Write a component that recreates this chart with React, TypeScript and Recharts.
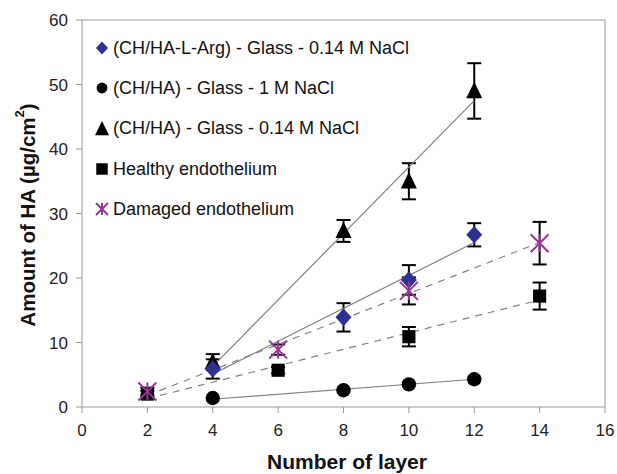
import React from "react";
import {
  ComposedChart,
  Scatter,
  XAxis,
  YAxis,
  ErrorBar,
  ReferenceLine,
  Legend,
} from "recharts";

// layer counts and measured HA amounts (µg/cm²)
const argLayers = [4, 8, 10, 12];
const argAmount = [5.9, 13.9, 19.7, 26.7];
const argErr = [1.5, 2.2, 2.3, 1.8];

const naclLayers = [4, 8, 10, 12];
const naclAmount = [1.4, 2.6, 3.5, 4.3];
const naclErr = [0.3, 0.4, 0.4, 0.5];

const lowLayers = [4, 8, 10, 12];
const lowAmount = [7.0, 27.3, 35.0, 49.0];
const lowErr = [1.2, 1.7, 2.8, 4.3];

const healthyLayers = [2, 6, 10, 14];
const healthyAmount = [2.0, 5.7, 10.9, 17.2];
const healthyErr = [0.5, 0.5, 1.5, 2.1];

const damagedLayers = [2, 6, 10, 14];
const damagedAmount = [2.4, 8.9, 18.0, 25.4];
const damagedErr = [0.6, 0.8, 2.1, 3.3];

// trend line end points
const trendGlassX = [4, 12];
const trendArg = [5.1, 25.5];
const trendNacl = [1.2, 4.3];
const trendLow = [6.3, 47.5];
const trendTissueX = [2, 14];
const trendHealthy = [1.3, 16.6];
const trendDamaged = [1.8, 25.5];

const xTicks = [0, 2, 4, 6, 8, 10, 12, 14, 16];
const yTicks = [0, 10, 20, 30, 40, 50, 60];

const legendNames = [
  "(CH/HA-L-Arg) - Glass - 0.14 M NaCl",
  "(CH/HA) - Glass - 1 M NaCl",
  "(CH/HA) - Glass - 0.14 M NaCl",
  "Healthy endothelium",
  "Damaged endothelium",
];

const pts = (xs: number[], ys: number[], errs?: number[]) =>
  xs.map((x, i) => ({ x, y: ys[i], err: errs ? errs[i] : 0 }));

const NAVY = "#2e3192";
const PURPLE = "#993399";
const AXIS = "#9c9696";
const FONT = "'Liberation Sans', Arial, sans-serif";

function marker(kind: string, cx: number, cy: number, s: number) {
  if (kind === "diamond")
    return (
      <polygon
        points={`${cx},${cy - s * 1.1} ${cx + s},${cy} ${cx},${cy + s * 1.1} ${cx - s},${cy}`}
        fill={NAVY}
      />
    );
  if (kind === "circle") return <circle cx={cx} cy={cy} r={s * 0.9} fill="#000" />;
  if (kind === "triangle")
    return (
      <polygon
        points={`${cx},${cy - s * 1.15} ${cx + s},${cy + s * 0.9} ${cx - s},${cy + s * 0.9}`}
        fill="#000"
      />
    );
  if (kind === "square")
    return <rect x={cx - s * 0.82} y={cy - s * 0.82} width={s * 1.64} height={s * 1.64} fill="#000" />;
  return (
    <g stroke={PURPLE} strokeWidth={2}>
      <line x1={cx - s} y1={cy - s} x2={cx + s} y2={cy + s} />
      <line x1={cx - s} y1={cy + s} x2={cx + s} y2={cy - s} />
      <line x1={cx} y1={cy - s} x2={cx} y2={cy + s} />
    </g>
  );
}

const shapeOf = (kind: string, s: number) => (props: any) =>
  <g>{marker(kind, props.cx, props.cy, s)}</g>;

const legendKinds = ["diamond", "circle", "triangle", "square", "star"];
const legendSizes = [6, 6, 7, 7, 6];

function renderLegend() {
  return (
    <div style={{ fontFamily: FONT, fontSize: 18, color: "#111" }}>
      {legendNames.map((name, i) => (
        <div key={name} style={{ height: 40.3, display: "flex", alignItems: "center" }}>
          <svg width={16} height={18} style={{ marginRight: 3 }}>
            {marker(legendKinds[i], 8, 9, legendSizes[i])}
          </svg>
          <span>{name}</span>
        </div>
      ))}
    </div>
  );
}

function YLabel(props: any) {
  return (
    <text
      x={27}
      y={215}
      transform="rotate(-90 27 215)"
      textAnchor="middle"
      dominantBaseline="central"
      fontFamily={FONT}
      fontWeight="bold"
      fontSize={20.5}
      fill="#111"
    >
      Amount of HA (µg/cm
      <tspan dy={-8} fontSize={13}>2</tspan>
      <tspan dy={8}>)</tspan>
    </text>
  );
}

function XLabel(props: any) {
  return (
    <text
      x={347}
      y={461}
      textAnchor="middle"
      dominantBaseline="central"
      fontFamily={FONT}
      fontWeight="bold"
      fontSize={21}
      fill="#111"
    >
      Number of layer
    </text>
  );
}

export default function App() {
  const tick = { fill: "#222", fontSize: 17, fontFamily: FONT };
  const trendSolid = { stroke: "#808080", strokeWidth: 1.2 };
  const trendDash = { stroke: "#808080", strokeWidth: 1.2, strokeDasharray: "7 6" };
  const none = () => <g />;
  return (
    <div style={{ position: "absolute", left: 0, top: 0, background: "#fff" }}>
      <ComposedChart
        width={617}
        height={474}
        margin={{ top: 20, right: 12, bottom: 27, left: 32 }}
      >
        <XAxis
          type="number"
          dataKey="x"
          domain={[0, 16]}
          ticks={xTicks}
          interval={0}
          tick={tick}
          tickSize={6}
          tickMargin={11}
          height={40}
          axisLine={{ stroke: AXIS }}
          tickLine={{ stroke: AXIS }}
          label={<XLabel />}
        />
        <YAxis
          type="number"
          dataKey="y"
          domain={[0, 60]}
          ticks={yTicks}
          interval={0}
          tick={tick}
          tickSize={6}
          tickMargin={8}
          width={50}
          axisLine={{ stroke: AXIS }}
          tickLine={{ stroke: AXIS }}
          label={<YLabel />}
        />
        <ReferenceLine y={60} stroke={AXIS} />
        <ReferenceLine x={16} stroke={AXIS} />
        <Legend
          content={renderLegend}
          layout="vertical"
          verticalAlign="middle"
          align="center"
          wrapperStyle={{ top: 28, left: 94, width: "auto" }}
        />

        <Scatter data={pts(trendGlassX, trendLow)} line={trendSolid} shape={none} isAnimationActive={false} legendType="none" />
        <Scatter data={pts(trendGlassX, trendArg)} line={trendSolid} shape={none} isAnimationActive={false} legendType="none" />
        <Scatter data={pts(trendGlassX, trendNacl)} line={trendSolid} shape={none} isAnimationActive={false} legendType="none" />
        <Scatter data={pts(trendTissueX, trendDamaged)} line={trendDash} shape={none} isAnimationActive={false} legendType="none" />
        <Scatter data={pts(trendTissueX, trendHealthy)} line={trendDash} shape={none} isAnimationActive={false} legendType="none" />

        <Scatter data={pts(naclLayers, naclAmount, naclErr)} shape={shapeOf("circle", 8)} isAnimationActive={false}>
          <ErrorBar dataKey="err" direction="y" width={6} stroke="#000" strokeWidth={2} />
        </Scatter>
        <Scatter data={pts(healthyLayers, healthyAmount, healthyErr)} shape={shapeOf("square", 8)} isAnimationActive={false}>
          <ErrorBar dataKey="err" direction="y" width={7} stroke="#000" strokeWidth={2} />
        </Scatter>
        <Scatter data={pts(lowLayers, lowAmount, lowErr)} shape={shapeOf("triangle", 8)} isAnimationActive={false}>
          <ErrorBar dataKey="err" direction="y" width={7} stroke="#000" strokeWidth={2} />
        </Scatter>
        <Scatter data={pts(argLayers, argAmount, argErr)} shape={shapeOf("diamond", 8)} isAnimationActive={false}>
          <ErrorBar dataKey="err" direction="y" width={7} stroke="#000" strokeWidth={2} />
        </Scatter>
        <Scatter data={pts(damagedLayers, damagedAmount, damagedErr)} shape={shapeOf("star", 9)} isAnimationActive={false}>
          <ErrorBar dataKey="err" direction="y" width={7} stroke="#000" strokeWidth={2} />
        </Scatter>
      </ComposedChart>
    </div>
  );
}
